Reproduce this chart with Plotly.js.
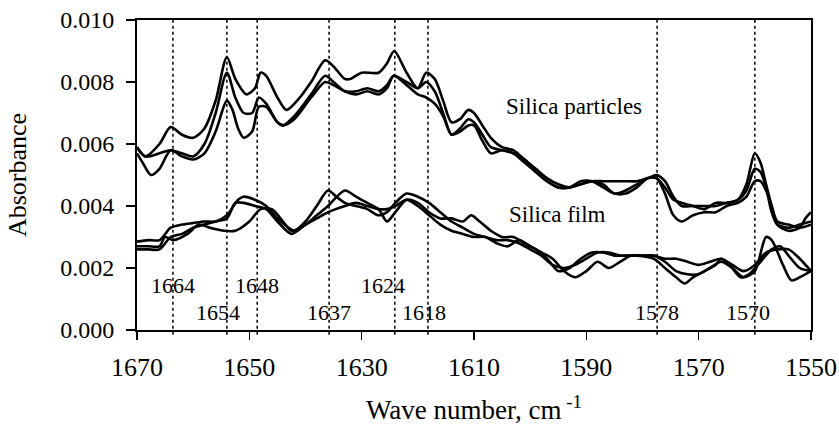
<!DOCTYPE html>
<html>
<head>
<meta charset="utf-8">
<script src="https://cdn.plot.ly/plotly-3.0.1.min.js"></script>
<style>html,body{margin:0;padding:0;background:#fff;}#chart{width:839px;height:425px;}</style>
</head>
<body>
<div id="chart"></div>
<script>
// ---- Silica particles: three spectra ----
const p1_w = [1670,1668.5,1666,1664,1662,1660,1658,1656,1654,1652.5,1650.5,1649,1648,1647,1645,1643.4,1641,1639,1636.5,1635,1633,1632,1630,1627,1625.5,1624.2,1622,1620,1618.5,1617,1615.5,1614,1612.5,1611,1610,1608.5,1607,1605,1603,1601,1599,1597,1595,1593,1591,1589,1587,1585,1583,1581,1579,1577.5,1576,1574.5,1573,1571,1569,1567,1565,1563,1561.5,1560,1559,1558,1557,1556,1554,1552,1551,1550];
const p1_a = [0.0059,0.0056,0.0060,0.00655,0.0063,0.0062,0.0065,0.0074,0.0088,0.0081,0.0076,0.0078,0.0083,0.0082,0.0075,0.0071,0.0075,0.0080,0.0087,0.0085,0.0081,0.0081,0.0083,0.0083,0.0086,0.0090,0.0083,0.0078,0.0083,0.0081,0.0074,0.0067,0.0068,0.0071,0.0070,0.0066,0.0062,0.0059,0.0058,0.0055,0.0052,0.0049,0.0047,0.0046,0.0047,0.0048,0.0048,0.0048,0.0048,0.0048,0.0049,0.0050,0.0048,0.0043,0.0040,0.0040,0.0040,0.0040,0.0041,0.0042,0.0047,0.0057,0.0054,0.0047,0.0040,0.0034,0.0032,0.0033,0.0036,0.0038];

const p2_w = [1670,1668.5,1666,1664,1662,1660,1658,1656,1654,1652.5,1651,1649.5,1648.3,1647,1645,1644,1642,1639,1636.5,1635,1633,1631,1629,1627,1625.5,1624.3,1622,1620,1618.5,1617,1615.5,1614,1612.5,1611,1610,1608.5,1607,1605,1603,1601,1599,1597,1595,1593,1591,1589,1587,1585,1583,1581,1579,1577.5,1576,1574.5,1573,1571,1569,1567,1565,1563,1561.5,1560,1559,1558,1557,1556,1554,1552,1550];
const p2_a = [0.0059,0.0056,0.0057,0.0058,0.0057,0.0056,0.0060,0.0070,0.0083,0.0075,0.0070,0.0070,0.0075,0.0073,0.0067,0.0066,0.0069,0.0076,0.0082,0.0080,0.0077,0.0077,0.0078,0.0077,0.0079,0.0082,0.0080,0.0078,0.0080,0.0077,0.0070,0.0063,0.0065,0.0068,0.0067,0.0063,0.0059,0.0058,0.0057,0.0055,0.0051,0.0048,0.0046,0.0046,0.0047,0.0048,0.0047,0.0044,0.0045,0.0047,0.0049,0.0049,0.0046,0.0042,0.0041,0.0040,0.0039,0.0041,0.0041,0.0042,0.0045,0.0052,0.0051,0.0046,0.0038,0.0034,0.0033,0.0034,0.0035];

const p3_w = [1670,1669,1667.5,1666,1664,1662,1660,1658,1656,1654,1653,1652,1651,1649.5,1648.3,1647,1645,1644,1642,1639,1636.5,1635,1633,1631,1629,1627,1625.5,1624.3,1622,1620,1618.5,1617,1615.5,1614,1612.5,1611,1610,1608.5,1607,1605,1603,1601,1599,1597,1595,1593,1591,1589,1587,1585,1583,1581,1579,1577.5,1576,1574.5,1573,1571,1569,1567,1565,1563,1561.5,1560,1559,1558,1557,1556,1554,1552,1550];
const p3_a = [0.0057,0.0054,0.0050,0.0052,0.0058,0.0056,0.0055,0.0057,0.0064,0.0074,0.0071,0.0065,0.0062,0.0064,0.0072,0.0072,0.0067,0.0066,0.0068,0.0075,0.0080,0.0079,0.0077,0.0076,0.0077,0.0076,0.0078,0.0082,0.0079,0.0076,0.0075,0.0073,0.0069,0.0063,0.0064,0.0066,0.0066,0.0061,0.0057,0.0058,0.0057,0.0054,0.0051,0.0048,0.0046,0.0046,0.0048,0.0048,0.0046,0.0044,0.0044,0.0046,0.0049,0.0049,0.0044,0.0037,0.0035,0.0037,0.0038,0.0038,0.0040,0.0041,0.0043,0.0048,0.0048,0.0045,0.0040,0.0035,0.0034,0.0033,0.0034];

// ---- Silica film: three spectra ----
const f1_w = [1670,1668,1666,1664,1662,1660,1658,1656,1654,1652,1651,1649,1647,1645,1643,1642,1640,1638,1636,1634.5,1633,1631,1629,1627,1625.5,1624,1622,1620,1618,1616,1614,1612,1610,1608,1606,1604,1602,1600,1598,1596,1594,1592,1590,1588,1586,1584,1582,1580,1578,1576,1574,1572,1570,1568,1566,1564,1562,1560,1558,1557,1555,1553.5,1552,1550];
const f1_a = [0.00285,0.0029,0.0029,0.0033,0.0034,0.00345,0.0035,0.0035,0.0037,0.0042,0.0043,0.0042,0.0040,0.0036,0.0033,0.0032,0.0035,0.0040,0.0045,0.0043,0.0041,0.0040,0.0039,0.0037,0.0038,0.0041,0.0044,0.0043,0.0041,0.0038,0.0035,0.0033,0.0031,0.0030,0.0029,0.0029,0.0028,0.0026,0.0024,0.0021,0.0020,0.0021,0.0023,0.0025,0.0025,0.0024,0.0024,0.0024,0.0024,0.0022,0.0019,0.0018,0.0018,0.0020,0.0022,0.0020,0.0017,0.0019,0.0030,0.0029,0.0021,0.0016,0.0017,0.0019];

const f2_w = [1670,1668,1666,1665,1663.5,1661,1659,1657,1654.5,1652.5,1650,1648,1646,1644,1642.5,1640,1638,1636,1633,1631,1629,1627,1625.5,1624,1622,1620,1618,1616,1614,1612,1610.5,1609,1607,1605,1603,1601,1599,1597,1595,1593,1591,1589,1587,1585,1583,1581,1578,1576,1574,1572.5,1571,1569,1567,1566,1564.5,1562.5,1561,1559,1557,1555.5,1554,1552,1550];
const f2_a = [0.0027,0.0027,0.0027,0.0030,0.0029,0.0031,0.0034,0.0033,0.0032,0.0032,0.0035,0.0039,0.0039,0.0035,0.0032,0.0034,0.0037,0.0040,0.0045,0.0043,0.0041,0.0039,0.0035,0.0038,0.0042,0.0041,0.0038,0.0036,0.0036,0.0035,0.0037,0.0035,0.0032,0.0030,0.0030,0.0028,0.0026,0.0023,0.0019,0.0020,0.0023,0.0025,0.0025,0.0024,0.0024,0.0024,0.0023,0.0020,0.0017,0.0015,0.0017,0.0019,0.0021,0.0023,0.0021,0.0017,0.0018,0.0022,0.0026,0.0027,0.0024,0.0020,0.0019];

const f3_w = [1670,1668,1666,1664,1662,1660,1658,1656,1654,1652.5,1651,1649,1647,1645,1642.5,1640,1638,1636,1633,1631,1629,1627,1625.5,1624,1622,1620,1618,1616,1614,1612,1610,1608,1606,1604,1602,1600,1598,1596,1594,1592,1590,1588,1586,1584,1582,1580,1578,1576,1574,1572,1570,1568,1566,1564,1562,1560,1558,1556,1554,1552,1550];
const f3_a = [0.0026,0.0026,0.0026,0.0030,0.0031,0.0033,0.0034,0.0035,0.0036,0.0041,0.0041,0.0040,0.0039,0.0035,0.0031,0.0034,0.0036,0.0038,0.0040,0.0041,0.0040,0.0039,0.0039,0.0040,0.0042,0.0040,0.0037,0.0034,0.0032,0.0031,0.0030,0.0030,0.0028,0.0027,0.0029,0.0027,0.0025,0.0023,0.0019,0.0017,0.0019,0.0022,0.0020,0.0022,0.0024,0.0024,0.0024,0.0023,0.0023,0.0022,0.0021,0.0022,0.0023,0.0021,0.0019,0.0021,0.0025,0.0026,0.0026,0.0023,0.0019];

// ---- Marked bands: line positions on the axis and their printed labels ----
const bandPos = [1663.6,1654,1648.6,1635.8,1624.1,1618.2,1577.4,1560];
const bandLabels = ['1664','1654','1648','1637','1624','1618','1578','1570'];

const groupLabels = ['Silica particles','Silica film'];

// ---- Chart construction ----
const FONT = 'Liberation Serif';
const series = [[p1_w,p1_a],[p2_w,p2_a],[p3_w,p3_a],[f1_w,f1_a],[f2_w,f2_a],[f3_w,f3_a]];
const traces = series.map(s => ({
  x: s[0], y: s[1], type: 'scatter', mode: 'lines',
  line: {color: '#000', width: 2.6, shape: 'spline', smoothing: 0.8},
  hoverinfo: 'skip', showlegend: false
}));

const shapes = bandPos.map(w => ({
  type: 'line', xref: 'x', yref: 'paper', x0: w, x1: w, y0: -0.015, y1: 1,
  line: {color: '#000', width: 1.5, dash: 'dot'}, layer: 'above'
}));

const labelRowY = [0.00145,0.00055,0.00145,0.00055,0.00145,0.00055,0.00055,0.00055];
const labelShift = [0,-9,0,0,-12,-4,0,-7];
const annotations = bandLabels.map((t,i) => ({
  x: bandPos[i], y: labelRowY[i], xref: 'x', yref: 'y', text: t, showarrow: false,
  xshift: labelShift[i], yanchor: 'middle', xanchor: 'center',
  font: {family: FONT, size: 22, color: '#000'}
}));
annotations.push({x: 1592.2, y: 0.0072, xref:'x', yref:'y', text: groupLabels[0], showarrow:false,
  font:{family:FONT,size:23,color:'#000'}});
annotations.push({x: 1595.2, y: 0.00372, xref:'x', yref:'y', text: groupLabels[1], showarrow:false,
  font:{family:FONT,size:23,color:'#000'}});

const layout = {
  width: 839, height: 425,
  margin: {l: 137, r: 28, t: 20, b: 95},
  paper_bgcolor: '#fff', plot_bgcolor: '#fff',
  showlegend: false,
  font: {family: FONT, color: '#000'},
  xaxis: {
    range: [1670, 1550], tick0: 1550, dtick: 20, ticks: 'outside', ticklen: 8, tickwidth: 1.5,
    tickcolor: '#000', showline: true, linecolor: '#000', linewidth: 2, mirror: true,
    showgrid: false, zeroline: false, tickfont: {family: FONT, size: 26, color: '#000'},
    ticklabelstandoff: 5,
    title: {text: 'Wave number, cm<sup> -1</sup>', font: {family: FONT, size: 27, color: '#000'}, standoff: 22}
  },
  yaxis: {
    range: [0, 0.010], dtick: 0.002, tickformat: '.3f', ticks: 'outside', ticklen: 9, tickwidth: 1.5,
    tickcolor: '#000', showline: true, linecolor: '#000', linewidth: 2, mirror: true,
    showgrid: false, zeroline: false, tickfont: {family: FONT, size: 24, color: '#000'},
    ticklabelstandoff: 7,
    title: {text: 'Absorbance', font: {family: FONT, size: 26, color: '#000'}, standoff: 26}
  },
  shapes: shapes,
  annotations: annotations
};

Plotly.newPlot('chart', traces, layout, {staticPlot: true, displayModeBar: false});
</script>
</body>
</html>
